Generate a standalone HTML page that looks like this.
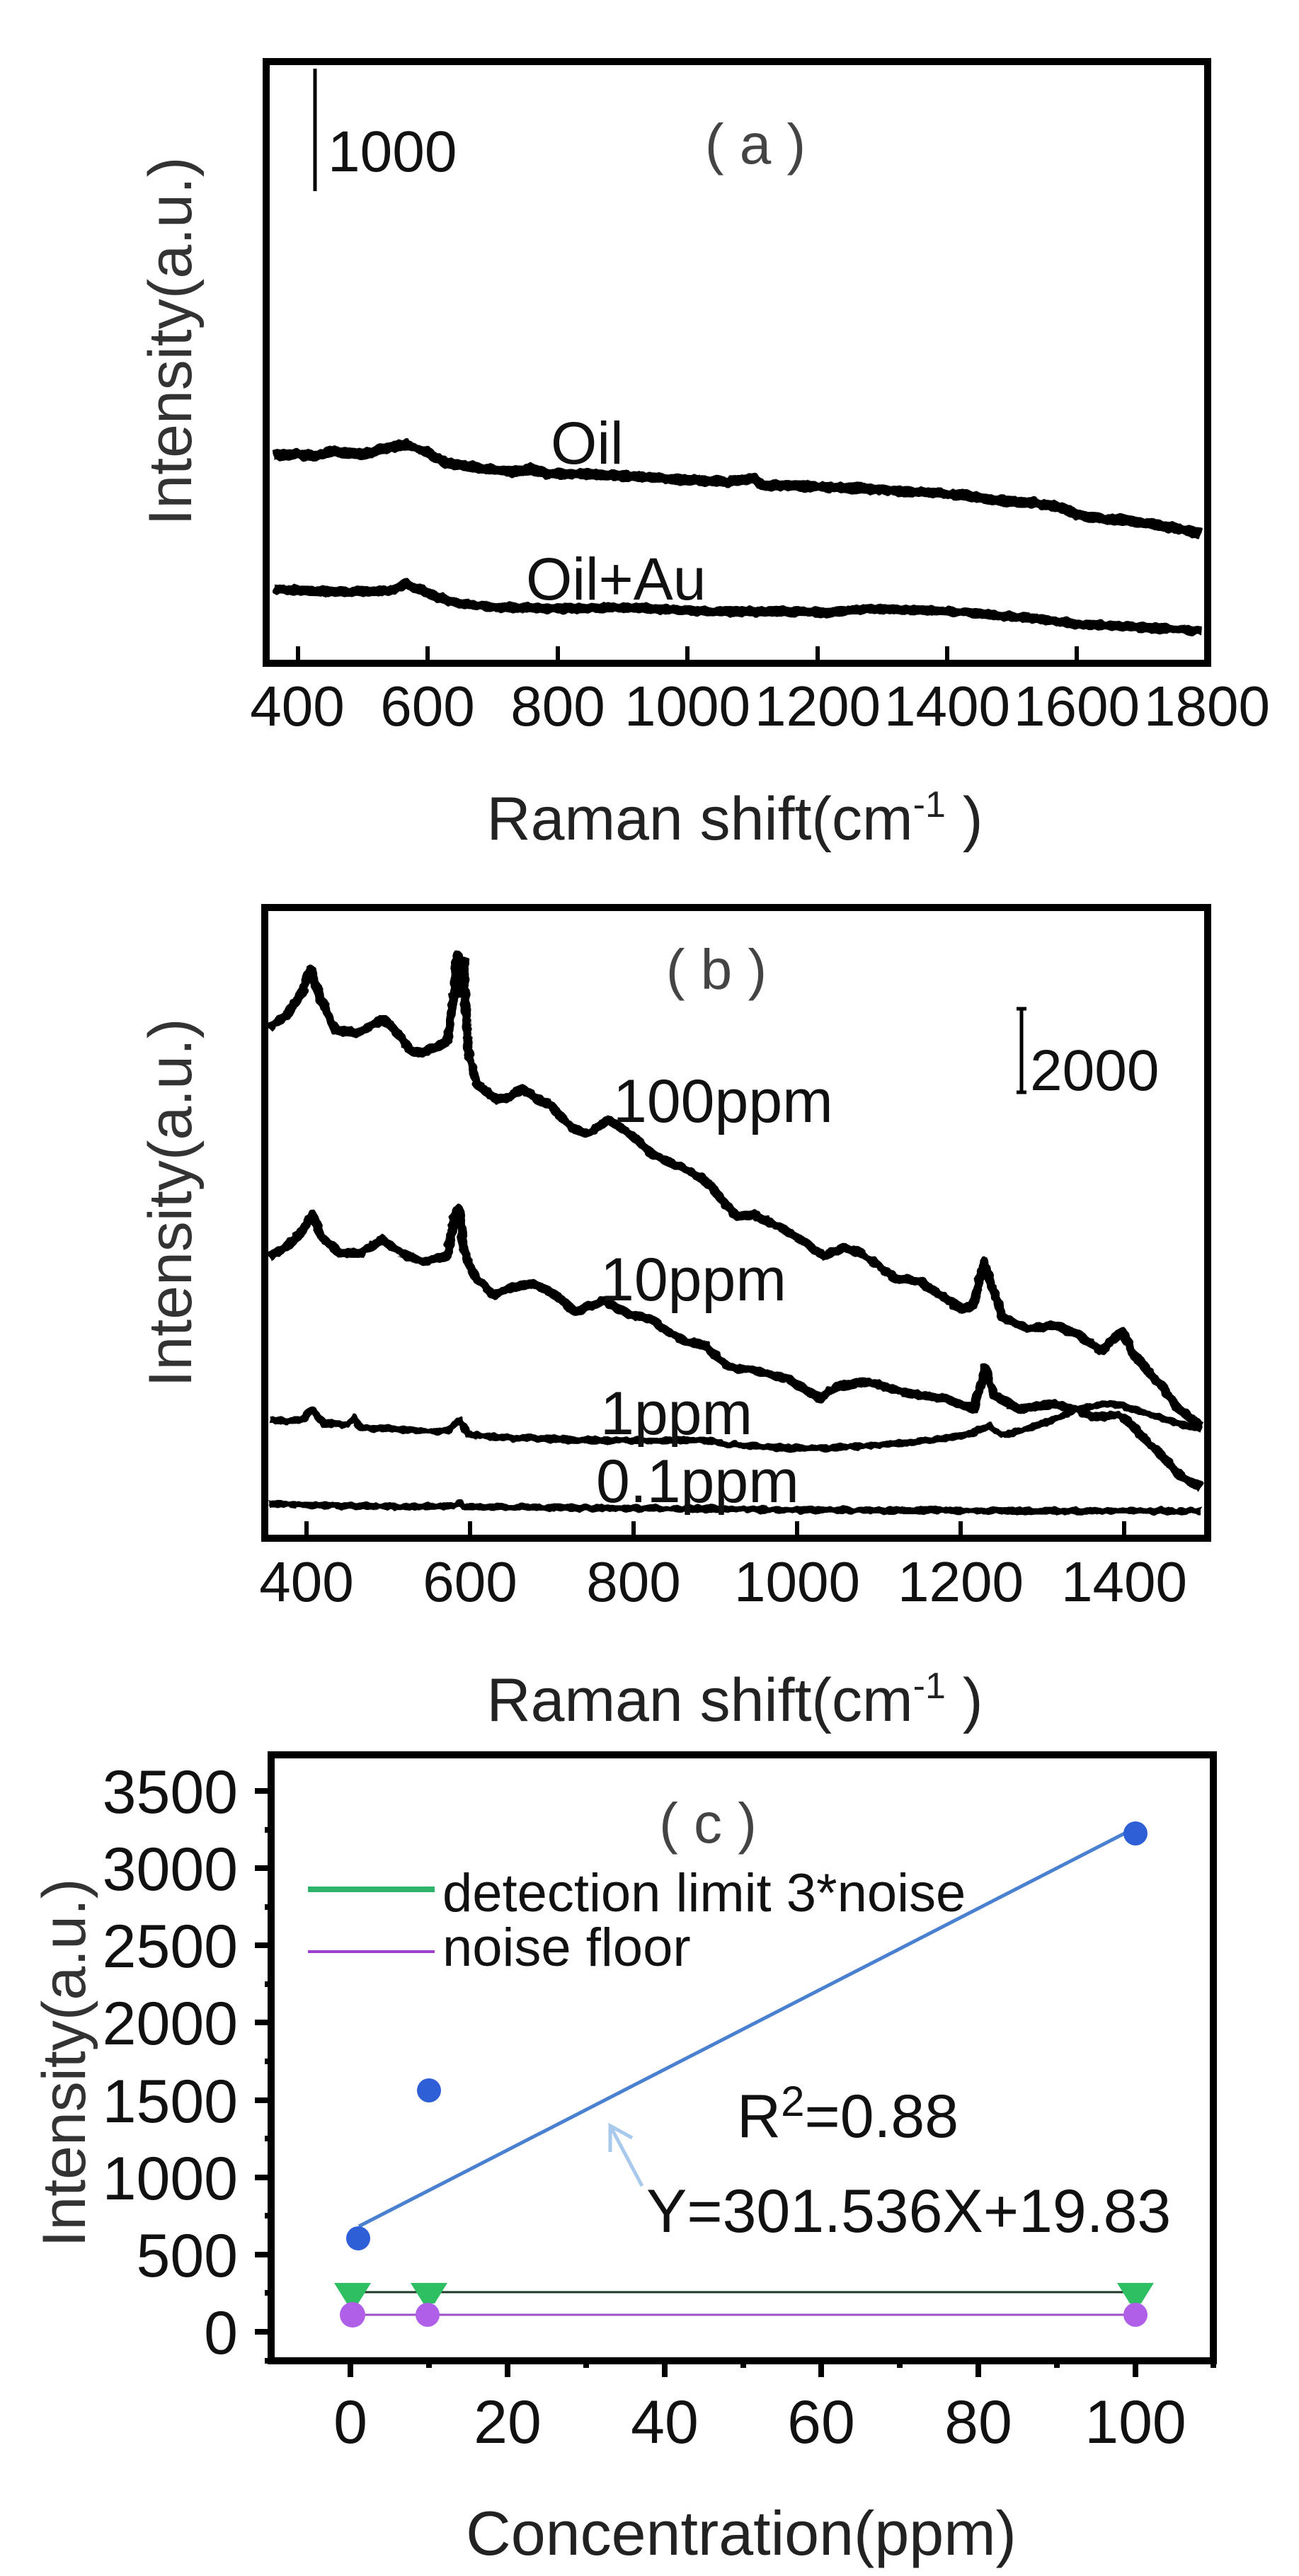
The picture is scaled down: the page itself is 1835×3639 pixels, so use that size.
<!DOCTYPE html>
<html><head><meta charset="utf-8"><style>
html,body{margin:0;padding:0;background:#fff}
svg{display:block}
text{font-family:"Liberation Sans",Arial,sans-serif;fill:#111}
</style></head><body>
<svg width="1835" height="3639" viewBox="0 0 1835 3639" xmlns="http://www.w3.org/2000/svg">
<defs>
<filter id="rough" filterUnits="userSpaceOnUse" x="0" y="0" width="1835" height="3639">
<feTurbulence type="fractalNoise" baseFrequency="0.09" numOctaves="2" seed="3" result="n"/>
<feDisplacementMap in="SourceGraphic" in2="n" scale="7" xChannelSelector="R" yChannelSelector="G"/>
</filter>
</defs>
<!-- ============ Panel A ============ -->
<rect x="376" y="87" width="1330" height="850" fill="none" stroke="#000" stroke-width="10"/>
<g stroke="#000" stroke-width="6">
<line x1="421" y1="937" x2="421" y2="913"/><line x1="604" y1="937" x2="604" y2="913"/>
<line x1="788" y1="937" x2="788" y2="913"/><line x1="971" y1="937" x2="971" y2="913"/>
<line x1="1155" y1="937" x2="1155" y2="913"/><line x1="1338" y1="937" x2="1338" y2="913"/>
<line x1="1521" y1="937" x2="1521" y2="913"/>
</g>
<g font-size="80" text-anchor="middle">
<text x="420" y="1025">400</text><text x="604" y="1025">600</text><text x="788" y="1025">800</text>
<text x="971" y="1025">1000</text><text x="1155" y="1025">1200</text><text x="1338" y="1025">1400</text>
<text x="1521" y="1025">1600</text><text x="1705" y="1025">1800</text>
</g>
<text x="1038" y="1186" font-size="86" text-anchor="middle" style="fill:#222">Raman shift(cm<tspan font-size="52" dy="-32">-1</tspan><tspan dy="32"> )</tspan></text>
<text transform="translate(270,482) rotate(-90)" font-size="86" text-anchor="middle" style="fill:#333">Intensity(a.u.)</text>
<line x1="445" y1="97" x2="445" y2="270" stroke="#000" stroke-width="5"/>
<text x="463" y="242" font-size="82">1000</text>
<text x="1067" y="231" font-size="80" text-anchor="middle" style="fill:#444">( a )</text>
<g filter="url(#rough)">
<g transform="translate(0,3) scale(1.17,0.786)" fill="none" stroke="#000" stroke-linejoin="round">
<polyline vector-effect="non-scaling-stroke" stroke-width="15" points="330,815 360,812 380,816 400,808 440,812 470,800 490,795 510,805 540,828 580,838 620,845 640,838 660,848 700,848 760,852 820,858 880,862 910,855 920,868 980,870 1050,875 1100,880 1160,885 1200,895 1250,900 1280,908 1310,925 1350,930 1400,940 1450,955"/>
<polyline vector-effect="non-scaling-stroke" stroke-width="14" points="330,1055 360,1058 420,1060 470,1058 490,1045 510,1058 545,1078 600,1088 680,1090 760,1088 850,1095 950,1095 1000,1097 1050,1090 1150,1095 1250,1108 1300,1118 1400,1125 1450,1130"/>
</g>
</g>
<text x="778" y="655" font-size="84">Oil</text>
<text x="743" y="847" font-size="84">Oil+Au</text>

<!-- ============ Panel B ============ -->
<rect x="374" y="1282" width="1332" height="891" fill="none" stroke="#000" stroke-width="10"/>
<g stroke="#000" stroke-width="6">
<line x1="433" y1="2173" x2="433" y2="2149"/><line x1="664" y1="2173" x2="664" y2="2149"/>
<line x1="895" y1="2173" x2="895" y2="2149"/><line x1="1126" y1="2173" x2="1126" y2="2149"/>
<line x1="1357" y1="2173" x2="1357" y2="2149"/><line x1="1588" y1="2173" x2="1588" y2="2149"/>
</g>
<g font-size="80" text-anchor="middle">
<text x="433" y="2262">400</text><text x="664" y="2262">600</text><text x="895" y="2262">800</text>
<text x="1126" y="2262">1000</text><text x="1357" y="2262">1200</text><text x="1588" y="2262">1400</text>
</g>
<text x="1038" y="2431" font-size="86" text-anchor="middle" style="fill:#222">Raman shift(cm<tspan font-size="52" dy="-32">-1</tspan><tspan dy="32"> )</tspan></text>
<text transform="translate(270,1699) rotate(-90)" font-size="86" text-anchor="middle" style="fill:#333">Intensity(a.u.)</text>
<text x="1012" y="1397" font-size="80" text-anchor="middle" style="fill:#444">( b )</text>
<g stroke="#000" stroke-width="5"><line x1="1443" y1="1425" x2="1443" y2="1543"/><line x1="1436" y1="1425" x2="1450" y2="1425"/><line x1="1436" y1="1543" x2="1450" y2="1543"/></g>
<text x="1455" y="1540" font-size="82">2000</text>
<g filter="url(#rough)">
<g transform="translate(0,1247) scale(1.17,0.787)" fill="none" stroke="#000" stroke-linejoin="round">
<polyline vector-effect="non-scaling-stroke" stroke-width="13" points="325,260 345,240 365,195 375,155 385,200 405,265 430,270 445,260 462,245 475,260 495,300 510,305 540,285 548,200 552,130 556,200 560,140 565,300 575,360 600,390 615,385 630,370 645,385 665,400 690,440 710,450 735,425 760,450 790,490 830,515 855,540 890,600 910,595 950,625 975,650 995,670 1020,655 1040,665 1080,710 1110,715 1160,765 1175,760 1188,680 1197,720 1210,780 1240,800 1275,795 1300,810 1330,840 1355,805 1370,850 1400,900 1420,940 1450,975"/>
<polyline vector-effect="non-scaling-stroke" stroke-width="13" points="325,670 345,655 365,625 377,595 388,635 410,665 435,665 462,640 485,665 510,680 540,670 550,590 555,585 560,660 570,700 595,740 620,725 645,720 670,740 695,770 730,750 760,775 790,785 800,800 830,825 850,830 880,870 910,875 950,890 990,925 1010,905 1045,895 1080,910 1110,920 1140,925 1175,945 1190,870 1200,920 1230,945 1270,935 1300,945 1320,960 1350,955 1360,965 1390,1010 1430,1070 1450,1085"/>
<polyline vector-effect="non-scaling-stroke" stroke-width="10" points="325,965 365,965 377,945 390,970 420,972 428,960 435,978 470,980 540,985 555,965 565,990 600,995 700,1000 800,1002 850,1000 880,1008 950,1015 1000,1015 1050,1010 1100,1005 1165,992 1195,975 1210,992 1240,980 1270,965 1300,945 1335,935 1355,938 1390,955 1420,970 1450,980"/>
<polyline vector-effect="non-scaling-stroke" stroke-width="10" points="325,1115 400,1118 500,1120 550,1118 555,1114 560,1120 700,1122 850,1124 1000,1126 1200,1127 1450,1128"/>
</g>
</g>
<g font-size="86">
<text x="866" y="1585">100ppm</text>
<text x="848" y="1837">10ppm</text>
<text x="848" y="2026">1ppm</text>
<text x="842" y="2122">0.1ppm</text>
</g>

<!-- ============ Panel C ============ -->
<rect x="383" y="2479" width="1331" height="856" fill="none" stroke="#000" stroke-width="10"/>
<g stroke="#000" stroke-width="8">
<line x1="360" y1="3294" x2="383" y2="3294"/><line x1="360" y1="3185" x2="383" y2="3185"/>
<line x1="360" y1="3076" x2="383" y2="3076"/><line x1="360" y1="2967" x2="383" y2="2967"/>
<line x1="360" y1="2857" x2="383" y2="2857"/><line x1="360" y1="2748" x2="383" y2="2748"/>
<line x1="360" y1="2639" x2="383" y2="2639"/><line x1="360" y1="2530" x2="383" y2="2530"/>
<line x1="374" y1="3239" x2="383" y2="3239"/><line x1="374" y1="3130" x2="383" y2="3130"/>
<line x1="374" y1="3021" x2="383" y2="3021"/><line x1="374" y1="2912" x2="383" y2="2912"/>
<line x1="374" y1="2803" x2="383" y2="2803"/><line x1="374" y1="2694" x2="383" y2="2694"/>
<line x1="374" y1="2585" x2="383" y2="2585"/><line x1="374" y1="3335" x2="383" y2="3335"/>
<line x1="495" y1="3335" x2="495" y2="3358"/><line x1="717" y1="3335" x2="717" y2="3358"/>
<line x1="939" y1="3335" x2="939" y2="3358"/><line x1="1160" y1="3335" x2="1160" y2="3358"/>
<line x1="1382" y1="3335" x2="1382" y2="3358"/><line x1="1604" y1="3335" x2="1604" y2="3358"/>
<line x1="606" y1="3335" x2="606" y2="3345"/><line x1="828" y1="3335" x2="828" y2="3345"/>
<line x1="1050" y1="3335" x2="1050" y2="3345"/><line x1="1271" y1="3335" x2="1271" y2="3345"/>
<line x1="1493" y1="3335" x2="1493" y2="3345"/><line x1="1714" y1="3335" x2="1714" y2="3345"/>
</g>
<g font-size="86" text-anchor="end">
<text x="336" y="3325">0</text><text x="336" y="3216">500</text><text x="336" y="3107">1000</text>
<text x="336" y="2998">1500</text><text x="336" y="2888">2000</text><text x="336" y="2779">2500</text>
<text x="336" y="2670">3000</text><text x="336" y="2561">3500</text>
</g>
<g font-size="86" text-anchor="middle">
<text x="495" y="3451">0</text><text x="717" y="3451">20</text><text x="939" y="3451">40</text>
<text x="1160" y="3451">60</text><text x="1382" y="3451">80</text><text x="1604" y="3451">100</text>
</g>
<text x="1047" y="3609" font-size="88" text-anchor="middle" style="fill:#222">Concentration(ppm)</text>
<text transform="translate(120,2914) rotate(-90)" font-size="86" text-anchor="middle" style="fill:#333">Intensity(a.u.)</text>
<text x="1000" y="2603" font-size="80" text-anchor="middle" style="fill:#444">( c )</text>
<!-- legend -->
<line x1="435" y1="2669" x2="614" y2="2669" stroke="#2db36a" stroke-width="8"/>
<line x1="435" y1="2757" x2="614" y2="2757" stroke="#9b3fd0" stroke-width="4"/>
<text x="625" y="2700" font-size="76">detection limit 3*noise</text>
<text x="625" y="2777" font-size="76">noise floor</text>
<!-- fit line -->
<line x1="507" y1="3145" x2="1604" y2="2582" stroke="#4a80d0" stroke-width="5"/>
<g fill="#2f5fd6">
<circle cx="506" cy="3162" r="17"/><circle cx="606" cy="2953" r="17"/><circle cx="1604" cy="2590" r="17"/>
</g>
<!-- detection & noise -->
<line x1="506" y1="3238" x2="1604" y2="3238" stroke="#1f3a2a" stroke-width="3"/>
<line x1="506" y1="3270" x2="1604" y2="3270" stroke="#9b4fc8" stroke-width="3"/>
<g fill="#2fbf63">
<polygon points="472,3225 524,3225 506,3254 490,3254"/><polygon points="580,3225 632,3225 614,3254 598,3254"/><polygon points="1578,3225 1630,3225 1612,3254 1596,3254"/>
</g>
<g fill="#b060e8">
<circle cx="498" cy="3270" r="18"/><circle cx="604" cy="3270" r="17"/><circle cx="1604" cy="3270" r="17"/>
</g>
<!-- annotations -->
<text x="1041" y="3019" font-size="86">R<tspan font-size="60" dy="-30">2</tspan><tspan dy="30">=0.88</tspan></text>
<text x="913" y="3153" font-size="86">Y=301.536X+19.83</text>
<g stroke="#a8c8ec" stroke-width="5" fill="none">
<line x1="907" y1="3088" x2="862" y2="3003"/>
<polyline points="862,3040 862,3003 893,3020"/>
</g>
</svg>
</body></html>
